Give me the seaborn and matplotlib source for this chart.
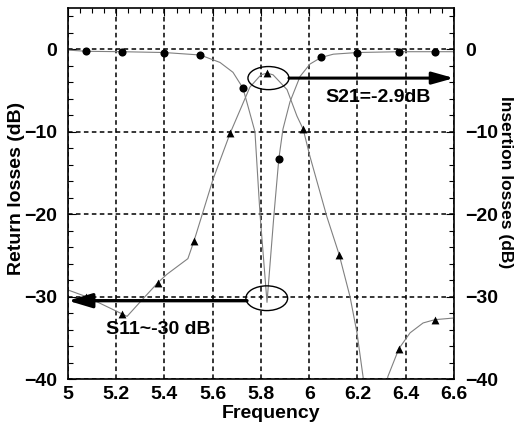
import matplotlib
matplotlib.use("Agg")
import matplotlib.pyplot as plt
from matplotlib.patches import Ellipse
from matplotlib.ticker import MultipleLocator
import seaborn as sns

# Return loss (S11) trace and its marker samples
s11_freq = [5.0, 5.075, 5.224, 5.40, 5.548, 5.63, 5.684, 5.725, 5.746, 5.775,
            5.796, 5.825, 5.854, 5.874, 5.891, 5.920, 5.962, 6.003, 6.049,
            6.10, 6.198, 6.372, 6.521, 6.6]
s11_db = [-0.1, -0.25, -0.3, -0.4, -0.7, -1.6, -2.8, -4.7, -6.9, -10.0,
          -20.0, -30.7, -20.0, -13.3, -9.7, -6.4, -3.3, -1.8, -1.0,
          -0.6, -0.4, -0.3, -0.3, -0.3]
s11_mk_freq = [5.075, 5.224, 5.40, 5.548, 5.725, 5.874, 6.049, 6.198, 6.372, 6.521]
s11_mk_db = [-0.25, -0.3, -0.4, -0.7, -4.7, -13.3, -1.0, -0.4, -0.3, -0.3]

# Insertion loss (S21) trace and its marker samples
s21_freq = [5.0, 5.075, 5.224, 5.245, 5.307, 5.373, 5.41, 5.497, 5.523, 5.56,
            5.601, 5.672, 5.754, 5.80, 5.825, 5.85, 5.908, 5.949, 5.975,
            6.003, 6.073, 6.124, 6.169, 6.198, 6.223, 6.26, 6.29, 6.326,
            6.372, 6.418, 6.472, 6.521, 6.6]
s21_db = [-29.2, -30.0, -32.1, -32.4, -30.4, -28.3, -27.3, -25.4, -23.2, -19.7,
          -15.8, -10.2, -4.6, -3.1, -2.9, -3.1, -4.9, -8.1, -9.7,
          -13.0, -20.3, -24.9, -30.0, -34.4, -39.7, -48.0, -47.0, -39.7,
          -36.3, -34.4, -33.2, -32.8, -32.6]
s21_mk_freq = [5.075, 5.224, 5.373, 5.523, 5.672, 5.825, 5.975, 6.124, 6.372, 6.521]
s21_mk_db = [-30.0, -32.1, -28.3, -23.2, -10.2, -2.9, -9.7, -24.9, -36.3, -32.8]

x_ticks = [5.0, 5.2, 5.4, 5.6, 5.8, 6.0, 6.2, 6.4, 6.6]
x_tick_labels = ["5", "5.2", "5.4", "5.6", "5.8", "6", "6.2", "6.4", "6.6"]
y_ticks = [-40, -30, -20, -10, 0]

s21_note = "S21=-2.9dB"
s11_note = "S11~-30 dB"

sns.set_style("white")
plt.rcParams["font.family"] = ["Liberation Sans", "DejaVu Sans"]
plt.rcParams["font.weight"] = "bold"
plt.rcParams["text.color"] = "black"
plt.rcParams["axes.labelcolor"] = "black"
plt.rcParams["xtick.color"] = "black"
plt.rcParams["ytick.color"] = "black"

fig = plt.figure(figsize=(5.15, 4.24), dpi=100)
ax = fig.add_axes([0.1320, 0.1061, 0.7495, 0.875])

line_kw = dict(color="#808080", linewidth=0.8, sort=False, estimator=None, legend=False)
sns.lineplot(x=s11_freq, y=s11_db, ax=ax, **line_kw)
sns.lineplot(x=s21_freq, y=s21_db, ax=ax, **line_kw)
sns.scatterplot(x=s11_mk_freq, y=s11_mk_db, ax=ax, marker="o", s=34,
                color="black", edgecolor="black", linewidth=0, zorder=4)
sns.scatterplot(x=s21_mk_freq, y=s21_mk_db, ax=ax, marker="^", s=32,
                color="black", edgecolor="black", linewidth=0, zorder=4)

ax.set_xlim(5.0, 6.6)
ax.set_ylim(-40, 5)
ax.set_xticks(x_ticks)
ax.set_xticklabels(x_tick_labels)
ax.set_yticks(y_ticks)
ax.xaxis.set_minor_locator(MultipleLocator(0.05))
ax.yaxis.set_minor_locator(MultipleLocator(2))
ax.grid(True, which="major", color="black", linestyle=(0, (3, 2.2)), linewidth=1.1)
ax.set_axisbelow(True)

for sp in ax.spines.values():
    sp.set_color("black")
    sp.set_linewidth(1.2)

ax.tick_params(which="both", direction="in", top=True, right=False,
               width=0.8, colors="black")
ax.tick_params(which="major", length=6, labelsize=14)
ax.tick_params(which="minor", length=3.5)
ax.tick_params(axis="x", which="major", pad=5)
ax.tick_params(axis="y", which="major", pad=8)

ax2 = ax.twinx()
ax2.set_ylim(-40, 5)
ax2.set_yticks(y_ticks)
ax2.yaxis.set_minor_locator(MultipleLocator(2))
ax2.tick_params(which="both", direction="in", width=0.8, colors="black")
ax2.tick_params(which="major", length=6, labelsize=14, pad=8)
ax2.tick_params(which="minor", length=3.5)
for sp in ax2.spines.values():
    sp.set_visible(False)

for lab in ax.get_xticklabels() + ax.get_yticklabels() + ax2.get_yticklabels():
    lab.set_fontweight("bold")
    lab.set_color("black")

ax.set_xlabel("Frequency", fontsize=14, fontweight="bold", color="black")
ax.xaxis.label.set_va("center")
ax.xaxis.set_label_coords(0.526, -0.0935)

ax.set_ylabel("Return losses (dB)", fontsize=14, fontweight="bold", color="black")
ax.yaxis.label.set_va("center")
ax.yaxis.set_label_coords(-0.133, 0.515)

ax2.set_ylabel("Insertion losses (dB)", fontsize=12.5, fontweight="bold",
               rotation=270, color="black")
ax2.yaxis.label.set_va("center")
ax2.yaxis.label.set_ha("center")
ax2.yaxis.set_label_coords(1.1347, 0.531)

# Callouts: ellipse round the S21 peak with an arrow to the right axis,
# ellipse round the S11 notch with an arrow to the left axis
ax.add_patch(Ellipse((5.831, -3.5), 0.170, 2.8, fill=False,
                     edgecolor="black", linewidth=1.0, zorder=5))
ax.add_patch(Ellipse((5.824, -30.2), 0.173, 3.0, fill=False,
                     edgecolor="black", linewidth=1.0, zorder=5))

ax.annotate("", xy=(6.6, -3.5), xytext=(5.916, -3.5),
            arrowprops=dict(arrowstyle="-|>,head_length=1.0,head_width=0.28",
                            color="black", lw=2.2, mutation_scale=13,
                            shrinkA=0, shrinkB=0), zorder=6)
ax.annotate("", xy=(5.0, -30.5), xytext=(5.742, -30.5),
            arrowprops=dict(arrowstyle="-|>,head_length=1.0,head_width=0.3",
                            color="black", lw=2.4, mutation_scale=14.4,
                            shrinkA=0, shrinkB=0), zorder=6)

ax.text(6.285, -5.8, s21_note, fontsize=14, fontweight="bold",
        ha="center", va="center", zorder=6)
ax.text(5.375, -34.0, s11_note, fontsize=14, fontweight="bold",
        ha="center", va="center", zorder=6)

fig.savefig("out.png", dpi=100)
